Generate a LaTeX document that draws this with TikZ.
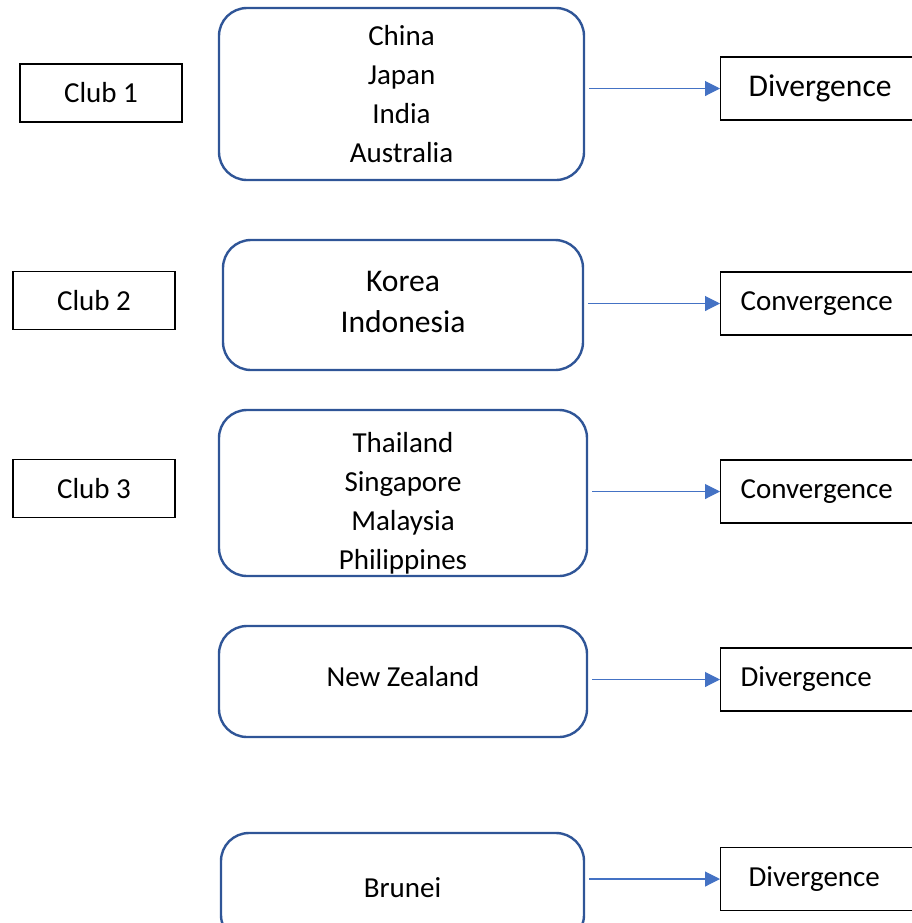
\documentclass[tikz,border=0pt]{standalone}
\usepackage{fontspec}
\setmainfont{Carlito}
\usepackage{tikz}
\usepackage{xcolor}
\usetikzlibrary{arrows.meta}

\definecolor{boxblue}{HTML}{2F5597}
\definecolor{arrowblue}{HTML}{4472C4}
\newcommand{\txtsmall}{\fontsize{14.5}{19.5}\selectfont}
\newcommand{\txtlarge}{\fontsize{15.8}{20.5}\selectfont}

\begin{document}
\begin{tikzpicture}[x=0.5pt,y=-0.5pt,
    club/.style={draw=black, line width=0.6pt, minimum width=81pt, minimum height=29pt, font=\txtsmall},
    group/.style={draw=boxblue, line width=1.2pt, rounded corners=14pt, align=center, font=\txtsmall},
    grouptext/.style={align=center, font=\txtsmall},
    result/.style={draw=black, line width=0.6pt, anchor=west, minimum height=31.5pt, text width=85pt, inner xsep=10pt, align=left, font=\txtsmall},
    link/.style={draw=arrowblue, line width=0.55pt, -{Triangle[length=7.5pt,width=7.5pt]}}]
                \clip (0,0) rectangle (912,923);
                % clubs
                \node[club] (club1) at (101,93) {Club 1};
                \node[club] (club2) at (94,300.5) {Club 2};
                \node[club] (club3) at (94,488.5) {Club 3};
                % country groups
                \node[group, minimum width=182.5pt, minimum height=86pt] (grp1) at (401.5,94) {China\\Japan\\India\\Australia};
                \node[group, minimum width=180pt, minimum height=65pt,
                    label={[grouptext, font=\txtlarge, yshift=1.5pt]center:{Korea\\Indonesia}}] (grp2) at (403,305) {};
                \node[group, minimum width=184pt, minimum height=83pt,
                    label={[grouptext, yshift=-5pt]center:{Thailand\\Singapore\\Malaysia\\Philippines}}] (grp3) at (403,493) {};
                \node[group, minimum width=184pt, minimum height=55.5pt,
                    label={[grouptext, yshift=2.5pt]center:New Zealand}] (grp4) at (403,681.5) {};
                \node[group, minimum width=181.5pt, minimum height=55pt] (grp5) at (402.5,888) {Brunei};
                % outcomes
                \node[result, inner xsep=14pt, text width=77pt, font=\txtlarge] (res1) at (720,88.5) {Divergence};
                \node[result] (res2) at (720,303.5) {Convergence};
                \node[result] (res3) at (720,491.5) {Convergence};
                \node[result] (res4) at (720,679.5) {Divergence};
                \node[result, inner xsep=14pt, text width=77pt] (res5) at (720,879) {Divergence};
                % arrows
                \foreach \i in {1,...,5}
                    \draw[link] ([xshift=2pt]grp\i.east |- res\i.west) -- (res\i.west);
            \end{tikzpicture}
\end{document}
